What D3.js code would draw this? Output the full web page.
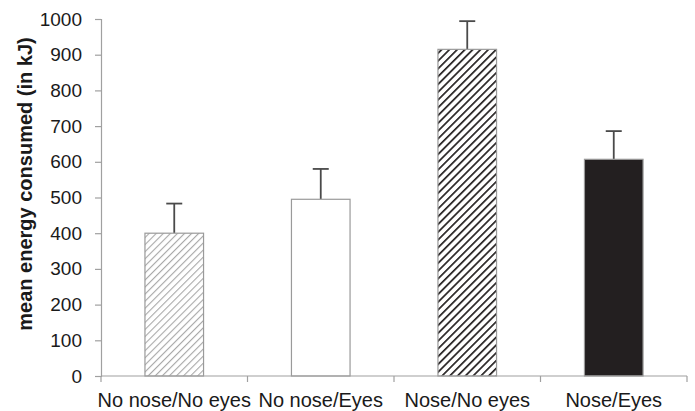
<!DOCTYPE html>
<html>
<head>
<meta charset="utf-8">
<script src="https://cdn.jsdelivr.net/npm/d3@7"></script>
<style>
  html, body { margin: 0; padding: 0; background: #fff; }
  svg { display: block; }
  text { font-family: "Liberation Sans", Arial, Helvetica, sans-serif; fill: #1a1a1a; }
</style>
</head>
<body>
<svg id="chart" width="695" height="411"></svg>
<script>
// Mean energy consumed per condition, with error bar upper values
const categories = ["No nose/No eyes", "No nose/Eyes", "Nose/No eyes", "Nose/Eyes"];
const meanValues = [400, 495, 915, 607];
const errorTops  = [483, 580, 994, 686];
const yTicks     = [0, 100, 200, 300, 400, 500, 600, 700, 800, 900, 1000];
const fillStyles = ["hatchLight", "plain", "hatchDark", "solid"];

const svg = d3.select("#chart");
const plotLeft = 101, plotRight = 687;

const x = d3.scaleBand()
  .domain(categories)
  .range([plotLeft, plotRight])
  .padding(0);

const y = d3.scaleLinear()
  .domain([0, 1000])
  .range([376, 19]);

// hatch patterns
const defs = svg.append("defs");
const pl = defs.append("pattern")
  .attr("id", "hatchLight")
  .attr("patternUnits", "userSpaceOnUse")
  .attr("width", 5).attr("height", 5)
  .attr("patternTransform", "rotate(45)");
pl.append("rect").attr("width", 5).attr("height", 5).attr("fill", "#fff");
pl.append("line").attr("x1", 0).attr("y1", 0).attr("x2", 0).attr("y2", 5)
  .attr("stroke", "#a8a8a8").attr("stroke-width", 2.2);

const pd = defs.append("pattern")
  .attr("id", "hatchDark")
  .attr("patternUnits", "userSpaceOnUse")
  .attr("width", 5.5).attr("height", 5.5)
  .attr("patternTransform", "rotate(45)");
pd.append("rect").attr("width", 5.5).attr("height", 5.5).attr("fill", "#fff");
pd.append("line").attr("x1", 0).attr("y1", 0).attr("x2", 0).attr("y2", 5.5)
  .attr("stroke", "#231f20").attr("stroke-width", 3.4);

function fillFor(s) {
  if (s === "hatchLight") return "url(#hatchLight)";
  if (s === "hatchDark") return "url(#hatchDark)";
  if (s === "solid") return "#231f20";
  return "#fff";
}

const barW = x.bandwidth() * 0.4;

// error bars (drawn behind bars)
const errG = svg.append("g");
categories.forEach((c, i) => {
  const cx = x(c) + x.bandwidth() / 2;
  errG.append("line")
    .attr("x1", cx).attr("x2", cx)
    .attr("y1", y(meanValues[i])).attr("y2", y(errorTops[i]))
    .attr("stroke", "#4a4a4a").attr("stroke-width", 1.8);
  errG.append("line")
    .attr("x1", cx - 8).attr("x2", cx + 8)
    .attr("y1", y(errorTops[i])).attr("y2", y(errorTops[i]))
    .attr("stroke", "#4a4a4a").attr("stroke-width", 1.8);
});

// bars
svg.append("g").selectAll("rect")
  .data(categories)
  .join("rect")
  .attr("x", d => x(d) + (x.bandwidth() - barW) / 2)
  .attr("y", (d, i) => y(meanValues[i]))
  .attr("width", barW)
  .attr("height", (d, i) => y(0) - y(meanValues[i]))
  .attr("fill", (d, i) => fillFor(fillStyles[i]))
  .attr("stroke", "#9a9a9a")
  .attr("stroke-width", 1.2);

// y axis
const yAxis = svg.append("g")
  .attr("transform", `translate(${plotLeft},0)`)
  .call(d3.axisLeft(y).tickValues(yTicks).tickSize(6).tickPadding(13).tickFormat(d3.format("d")));
yAxis.select(".domain").attr("stroke", "#a0a0a0").attr("stroke-width", 1.2);
yAxis.selectAll(".tick line").attr("stroke", "#a0a0a0").attr("stroke-width", 1.2);
yAxis.selectAll(".tick text").style("font-size", "19px").attr("fill", "#1a1a1a");

// x axis with ticks at category boundaries
const xAxisG = svg.append("g").attr("transform", `translate(0,${y(0)})`);
xAxisG.append("line")
  .attr("x1", plotLeft).attr("x2", plotRight)
  .attr("stroke", "#a0a0a0").attr("stroke-width", 1.2);
const boundaries = categories.map(c => x(c)).concat([x(categories[categories.length - 1]) + x.bandwidth()]);
xAxisG.selectAll("line.tk")
  .data(boundaries)
  .join("line")
  .attr("class", "tk")
  .attr("x1", d => d).attr("x2", d => d)
  .attr("y1", 0).attr("y2", 6)
  .attr("stroke", "#a0a0a0").attr("stroke-width", 1.2);
xAxisG.selectAll("text")
  .data(categories)
  .join("text")
  .attr("x", d => x(d) + x.bandwidth() / 2)
  .attr("y", 31)
  .attr("text-anchor", "middle")
  .style("font-size", "20px")
  .text(d => d);

// y axis title
svg.append("text")
  .attr("transform", "translate(32,184) rotate(-90)")
  .attr("text-anchor", "middle")
  .style("font-size", "20px")
  .style("font-weight", "bold")
  .text("mean energy consumed (in kJ)");
</script>
</body>
</html>
